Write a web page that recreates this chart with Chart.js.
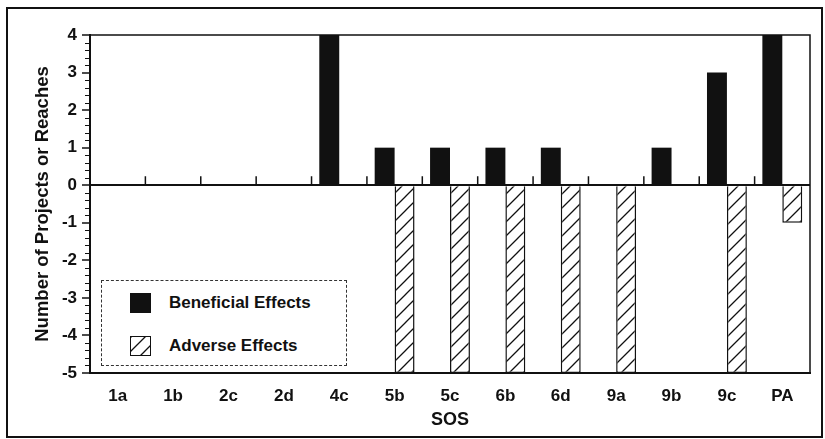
<!DOCTYPE html>
<html>
<head>
<meta charset="utf-8">
<script src="https://cdn.jsdelivr.net/npm/chart.js@4/dist/chart.umd.min.js"></script>
<style>
html,body{margin:0;padding:0;background:#fff;}
#wrap{position:relative;width:825px;height:439px;}
#frame{position:absolute;left:6px;top:7px;width:817px;height:431px;border:2px solid #111;box-sizing:border-box;pointer-events:none;}
#legend{position:absolute;left:101px;top:280px;width:246px;height:86px;border:1px dashed #333;box-sizing:border-box;background:#fff;font:bold 17px "Liberation Sans",Arial,sans-serif;color:#111;}
.item{position:absolute;left:28px;height:20px;display:flex;align-items:center;white-space:nowrap;}
.sw{width:21px;height:20px;box-sizing:border-box;margin-right:18px;flex:none;}
</style>
</head>
<body>
<div id="wrap">
  <canvas id="c" width="825" height="439"></canvas>
  <div id="frame"></div>
  <div id="legend">
    <div class="item" style="top:12px"><div class="sw" style="background:#111"></div>Beneficial Effects</div>
    <div class="item" style="top:55px"><div class="sw" id="sw2" style="border:1.5px solid #111"></div>Adverse Effects</div>
  </div>
</div>
<script>
var categories=['1a','1b','2c','2d','4c','5b','5c','6b','6d','9a','9b','9c','PA'];
var beneficial=[0,0,0,0,4,1,1,1,1,0,1,3,4];
var adverse=[0,0,0,0,0,-5,-5,-5,-5,-5,0,-5,-1];
var yMin=-5,yMax=4,minorStep=0.2;
var FONT='"Liberation Sans", Arial, Helvetica, sans-serif';

function hatchCanvas(){
  var c=document.createElement('canvas');c.width=14;c.height=14;
  var g=c.getContext('2d');
  g.fillStyle='#fff';g.fillRect(0,0,14,14);
  g.strokeStyle='#111';g.lineWidth=1.3;
  g.beginPath();
  g.moveTo(0,14);g.lineTo(14,0);
  g.moveTo(-3,3);g.lineTo(3,-3);
  g.moveTo(11,17);g.lineTo(17,11);
  g.stroke();
  return c;
}
var hc=hatchCanvas();
document.getElementById('sw2').style.backgroundImage='url('+hc.toDataURL()+')';

var ctx=document.getElementById('c').getContext('2d');
var hatch=ctx.createPattern(hc,'repeat');

var extras={
  id:'extras',
  afterDatasetsDraw:function(chart){
    var a=chart.chartArea,xs=chart.scales.x,ys=chart.scales.y,g=chart.ctx;
    g.save();
    g.strokeStyle='#111';
    // plot box
    g.lineWidth=1.5;
    g.strokeRect(a.left,a.top,a.right-a.left,a.bottom-a.top);
    // category boundary ticks on zero line
    var y0=ys.getPixelForValue(0);
    g.beginPath();
    for(var i=1;i<categories.length;i++){
      var bx=(xs.getPixelForValue(i-1)+xs.getPixelForValue(i))/2;
      g.moveTo(bx,y0);g.lineTo(bx,y0-9);
    }
    g.stroke();
    // minor ticks on y axis
    g.lineWidth=1.2;
    g.beginPath();
    for(var v=yMin;v<=yMax+1e-6;v+=minorStep){
      var r=Math.round(v*10)/10;
      if(Math.abs(r-Math.round(r))<1e-6) continue;
      var py=Math.round(ys.getPixelForValue(r))+0.5;
      g.moveTo(a.left-5,py);g.lineTo(a.left,py);
    }
    g.stroke();
    g.restore();
  }
};

new Chart(ctx,{
  type:'bar',
  data:{labels:categories,datasets:[
    {label:'Beneficial Effects',data:beneficial,backgroundColor:'#111',borderWidth:0},
    {label:'Adverse Effects',data:adverse,backgroundColor:hatch,borderColor:'#111',borderWidth:1.5}
  ]},
  options:{
    responsive:false,animation:false,
    categoryPercentage:0.72,barPercentage:1.0,
    layout:{padding:{left:0,right:15,top:35,bottom:0}},
    plugins:{legend:{display:false},tooltip:{enabled:false}},
    scales:{
      x:{
        offset:true,
        grid:{display:false,drawTicks:false},
        border:{display:true,color:'#111',width:2},
        ticks:{color:'#111',font:{family:FONT,size:17,weight:'bold'},padding:13,maxRotation:0},
        title:{display:true,text:'SOS',color:'#111',font:{family:FONT,size:18,weight:'bold'},padding:{top:0,bottom:8}},
        afterFit:function(s){s.height=66;}
      },
      y:{
        min:yMin,max:yMax,
        ticks:{stepSize:1,color:'#111',font:{family:FONT,size:17,weight:'bold'},padding:5},
        grid:{
          color:function(c){return c.tick&&c.tick.value===0?'#111':'rgba(0,0,0,0)';},
          lineWidth:2,tickColor:'#111',tickLength:8,tickWidth:1.5
        },
        border:{display:true,color:'#111',width:2},
        title:{display:true,text:'Number of Projects or Reaches',color:'#111',font:{family:FONT,size:18.5,weight:'bold'},padding:{top:32,bottom:0}},
        afterFit:function(s){s.width=90;}
      }
    }
  },
  plugins:[extras]
});
</script>
</body>
</html>
